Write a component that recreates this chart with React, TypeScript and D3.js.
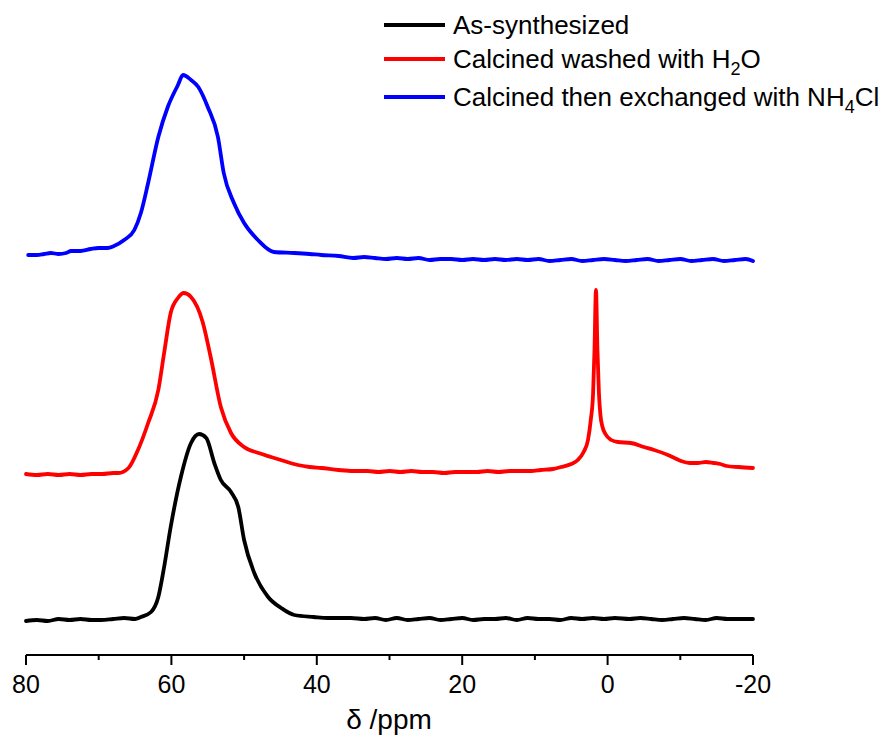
import React from "react";
import * as d3 from "d3";

// ---------- data ----------
const seriesNames = [
  "As-synthesized",
  "Calcined washed with H2O",
  "Calcined then exchanged with NH4Cl",
];
const seriesColors = ["#000000", "#ff0000", "#0000ff"];
const seriesOffsets = [36, 181, 395];

const asSynPpm = [
  80, 78.5, 77, 75.5, 74, 72.5, 71, 69.7, 68, 66.5, 65, 64.2, 62.8, 61.8, 61.0, 60.1, 58.7, 57.3,
  56.2, 55.2, 54.1, 53.2, 51.8, 50.8, 50.0, 48.6, 46.7, 44.9, 43.1, 40.4, 38.5, 37, 35.3, 33.5, 32,
  30.5, 29, 27.5, 26, 24.5, 23, 21.5, 20, 18.5, 17, 15.5, 14, 12.5, 11, 9.5, 8, 6.5, 5, 3.5, 2, 0.5,
  -1, -3, -4.5, -6, -7.5, -9, -10.5, -12, -13.5, -15, -16.5, -18, -20,
];
const asSynVal = [
  -2, -1, -2, 0, -1, 0, -1, -1, 0, 1, 0, 2, 7, 22, 52, 92, 142, 176,
  185, 181, 156, 139, 127, 112, 79, 46, 22, 11, 4, 2, 1, 1, 1, 0, 1,
  -1, 1, -1, 0, 1, -1, 0, 1, -1, 0, 0, 1, -1, 1, 0, 0, -1, 1, 0, 1, 0,
  1, 0, 1, 0, -1, 0, 1, 0, -1, 1, 0, 0, 0,
];

const h2oPpm = [
  80, 78.5, 77, 75.5, 74, 72.5, 71, 69.5, 68, 67.3, 65.9, 64.6, 63.2, 61.8, 61.0, 60.1, 59.1,
  58.3, 57.3, 55.7, 54.6, 53.2, 51.8, 50.0, 48, 46.3, 44.5, 42.6, 41, 39.4, 37, 35, 33, 31.5, 30,
  28.5, 27, 25.5, 24, 22.5, 21, 19.5, 18, 16.5, 15, 13.5, 12, 10.5, 9.2, 7.5, 6.4, 5, 4.1, 3.3,
  2.7, 2.3, 2.0, 1.8, 1.6, 1.4, 1.2, 1.0, 0.7, 0.3, -0.5, -1.4, -3.2, -5, -6.4, -8.3, -9.2, -10.1,
  -11.3, -12.4, -13.5, -14.6, -15.5, -16.4, -18, -20,
];
const h2oVal = [
  0, -1, 0, -1, 0, -1, 0, 0, 1, 1, 6, 24, 51, 84, 121, 161, 176,
  181, 177, 152, 117, 67, 41, 27, 21, 17, 13, 9, 7, 6, 4, 3, 3, 2, 3,
  2, 3, 2, 2, 1, 2, 2, 2, 3, 2, 3, 3, 3, 4, 5, 7, 10, 14, 22,
  34, 55, 80, 125, 184, 125, 82, 60, 47, 40, 34, 32, 31, 27, 24, 19, 16, 13,
  11, 11, 12, 11, 10, 8, 7, 6,
];

const nh4Ppm = [
  79.7, 78.5, 77.5, 76.6, 75.5, 74.5, 73.8, 72.5, 71.1, 70, 68.8, 67.9, 66.5, 65.1, 64.2, 63.2,
  61.8, 60.5, 59.1, 58.4, 57.3, 56.3, 55.0, 53.6, 52.8, 51.4, 50.0, 48.1, 45.9, 43.1, 41, 39.4,
  37, 35, 33.5, 32, 30.5, 29, 27.5, 26, 24.5, 23, 21.5, 20, 18.5, 17, 15.5, 14, 12.5, 11, 9.5, 8,
  6.5, 5, 3.5, 2, 0.5, -1, -2.5, -4, -5.5, -7, -8.5, -10, -11.5, -13, -14.5, -16, -17.5, -19, -20,
];
const nh4Val = [
  5, 5, 6, 7, 6, 7, 9, 9, 11, 12, 12, 14, 20, 30, 47, 77,
  123, 153, 175, 185, 180, 173, 153, 123, 87, 57, 37, 20, 8, 7, 6, 5,
  4, 2, 3, 2, 1, 2, 1, 2, 0, 1, 1, 0, 1, 0, 1, 0, 1, 0, 1, -1,
  0, 1, -1, 0, 1, 0, -1, 0, 1, -1, 0, 1, -1, 0, 1, -1, 0, 1, -1,
];

const xTicksMajor = [80, 60, 40, 20, 0, -20];
const xTicksMinor = [70, 50, 30, 10, -10];
const xTitle = "δ /ppm";

const seriesPpm = [asSynPpm, h2oPpm, nh4Ppm];
const seriesVal = [asSynVal, h2oVal, nh4Val];

// ---------- chart ----------
const W = 893;
const H = 744;
const FONT = "'Liberation Sans', Arial, sans-serif";

export default function App() {
  const x = d3.scaleLinear().domain([80, -20]).range([26, 753]);
  const y = d3.scaleLinear().domain([0, 640]).range([655, 15]);
  const axisY = y(0);

  const line = d3
    .line<[number, number]>()
    .x((d) => x(d[0]))
    .y((d) => y(d[1]))
    .curve(d3.curveMonotoneX);

  const paths = seriesPpm.map((ppm, i) =>
    line(ppm.map((p, j) => [p, seriesVal[i][j] + seriesOffsets[i]] as [number, number]))
  );

  const legendY = [25, 59, 97];

  const legendLabel = (i: number) => {
    if (i === 1)
      return (
        <>
          Calcined washed with H
          <tspan dy={7} fontSize={18}>2</tspan>
          <tspan dy={-7}>O</tspan>
        </>
      );
    if (i === 2)
      return (
        <>
          Calcined then exchanged with NH
          <tspan dy={7} fontSize={18}>4</tspan>
          <tspan dy={-7}>Cl</tspan>
        </>
      );
    return <>{seriesNames[i]}</>;
  };

  return (
    <svg
      width={W}
      height={H}
      style={{ position: "absolute", left: 0, top: 0, background: "#fff" }}
      fontFamily={FONT}
    >
      <rect x={0} y={0} width={W} height={H} fill="#fff" />
      {/* series */}
      {paths.map((d, i) => (
        <path
          key={i}
          d={d || ""}
          fill="none"
          stroke={seriesColors[i]}
          strokeWidth={3.8}
          strokeLinejoin="round"
          strokeLinecap="round"
        />
      ))}
      {/* x axis */}
      <line x1={x(80)} x2={x(-20)} y1={axisY} y2={axisY} stroke="#000" strokeWidth={2} />
      {xTicksMajor.map((t) => (
        <g key={"M" + t}>
          <line x1={x(t)} x2={x(t)} y1={axisY} y2={axisY + 10} stroke="#000" strokeWidth={2} />
          <text x={x(t)} y={693} textAnchor="middle" fontSize={25} fill="#000">
            {t}
          </text>
        </g>
      ))}
      {xTicksMinor.map((t) => (
        <line key={"m" + t} x1={x(t)} x2={x(t)} y1={axisY} y2={axisY + 5} stroke="#000" strokeWidth={2} />
      ))}
      <text x={389} y={729} textAnchor="middle" fontSize={28} fill="#000">
        {xTitle}
      </text>
      {/* legend */}
      {seriesNames.map((n, i) => (
        <g key={n}>
          <line x1={384} x2={445} y1={legendY[i]} y2={legendY[i]} stroke={seriesColors[i]} strokeWidth={3.8} />
          <text x={453} y={legendY[i] + 9} fontSize={26} fill="#000">
            {legendLabel(i)}
          </text>
        </g>
      ))}
    </svg>
  );
}
